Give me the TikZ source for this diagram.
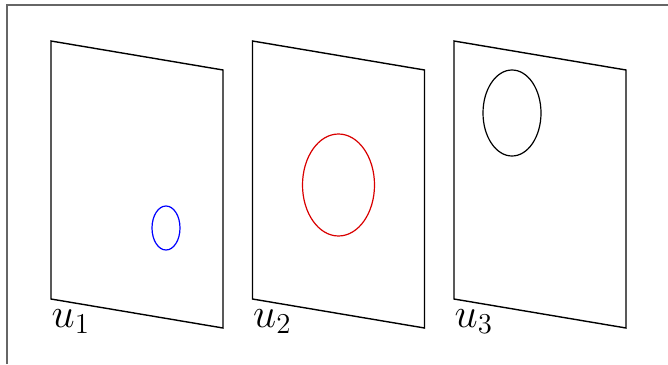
\documentclass[tikz,border=0pt]{standalone}
\usepackage{amsmath,amssymb}
\usetikzlibrary{positioning, calc}
\tikzset{every picture/.append style={line width=0.7pt}}
\tikzset{
    sheet/.style={draw=black, line join=miter},
    spot/.style={draw, line width=0.6pt},
    sheetlabel/.style={anchor=north west, inner xsep=0pt, inner ysep=5pt, font=\fontsize{20}{24}\selectfont}
}

\begin{document}
\begin{tikzpicture}[x=0.5pt, y=-0.5pt]
        \useasboundingbox (0,0) rectangle (668,364);
        % ----------------------------------------------------
        % Outer frame (cut off at right and bottom)
        % ----------------------------------------------------
        \draw[gray!80!black] (7,364) -- (7,5) -- (668,5);

        % ----------------------------------------------------
        % Three sheets, one per state
        % ----------------------------------------------------
        \foreach \i/\col/\cx/\cy/\rx/\ry in {1/blue/115/187/14/22, 2/red!85!black/86/144/36/51, 3/black/58/72/29/43} {
            \begin{scope}[shift={({(\i-1)*201.5},0)}]
                \coordinate (tl\i) at (51,41);
                \coordinate (tr\i) at (223,70);
                \coordinate (br\i) at (223,328);
                \coordinate (bl\i) at (51,299);
                \draw[sheet] (tl\i) -- (tr\i) -- (br\i) -- (bl\i) -- cycle;

                % circle on the sheet
                \draw[spot, \col] ($(tl\i)+(\cx,\cy)$) ellipse [x radius=\rx, y radius=\ry];

                \node[sheetlabel] (u\i) at (bl\i) {$u_{\i}$};
            \end{scope}
        }
    \end{tikzpicture}
\end{document}
